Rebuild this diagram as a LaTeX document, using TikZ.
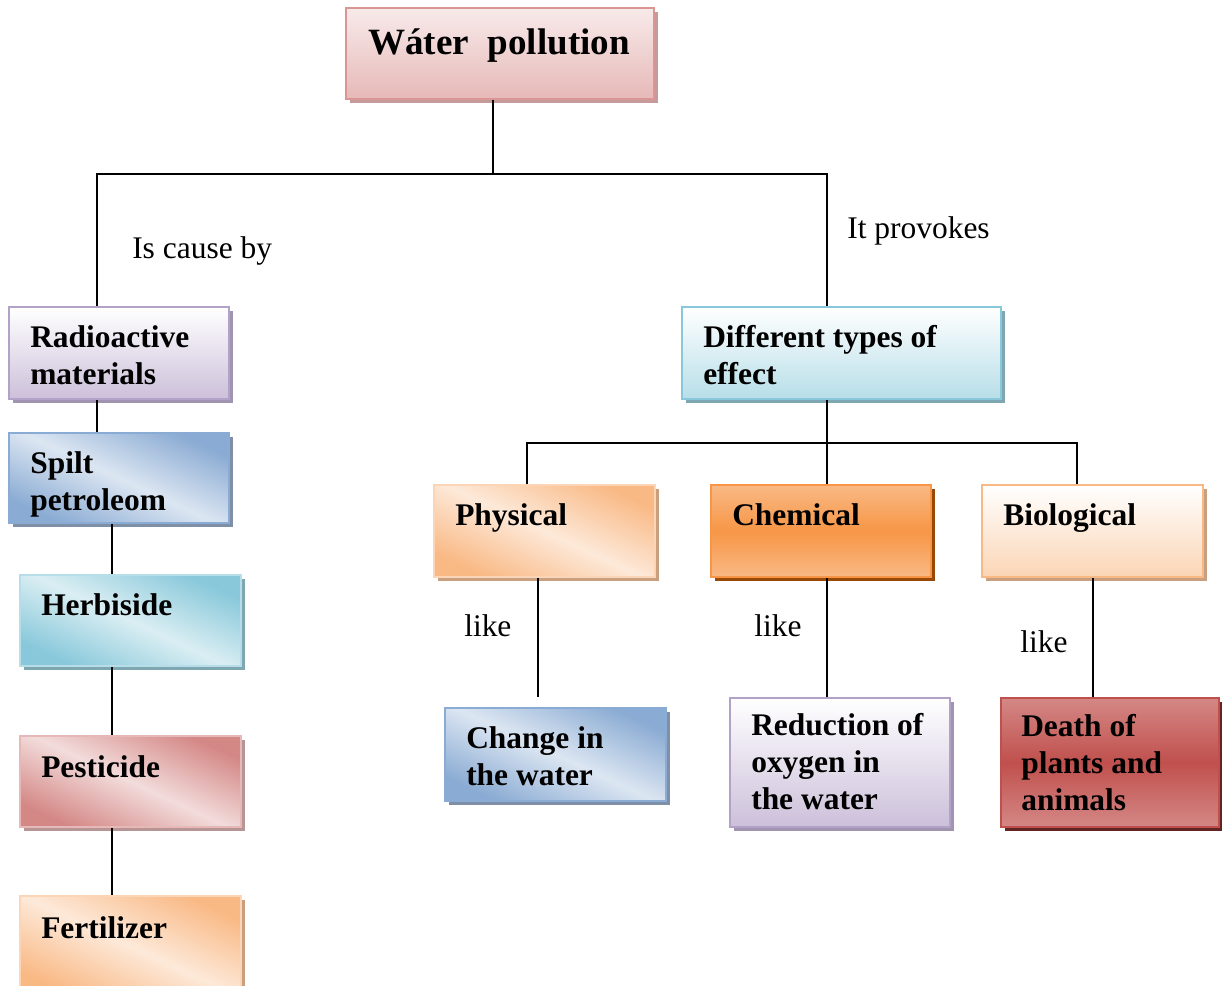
\documentclass[tikz,border=0pt]{standalone}
\usepackage{fontspec}
\setmainfont{Liberation Serif}
\usetikzlibrary{shadows}
\definecolor{pinkA}{HTML}{F8EAEA}\definecolor{pinkB}{HTML}{E6B9B8}\definecolor{pinkE}{HTML}{D99694}
\definecolor{purB}{HTML}{CCC0DA}\definecolor{purE}{HTML}{B3A2C7}
\definecolor{bluD}{HTML}{8AABD3}\definecolor{bluL}{HTML}{DCE6F2}
\definecolor{cyaD}{HTML}{88C8DA}\definecolor{cyaL}{HTML}{DAEEF3}\definecolor{cyaB}{HTML}{B7DEE8}
\definecolor{redD}{HTML}{D48886}\definecolor{redL}{HTML}{F2DCDB}
\definecolor{orgD}{HTML}{F9B985}\definecolor{orgL}{HTML}{FDE9D9}\definecolor{orgB}{HTML}{FBD5B5}
\definecolor{orgS}{HTML}{F79646}\definecolor{orgX}{HTML}{984807}
\definecolor{deaM}{HTML}{C0504D}\definecolor{deaX}{HTML}{632523}
\definecolor{shPink}{HTML}{C49A9A}\definecolor{shPur}{HTML}{A094B0}\definecolor{shBlu}{HTML}{7F8FA6}
\definecolor{shCya}{HTML}{7FA7B2}\definecolor{shRed}{HTML}{B89595}\definecolor{shOrg}{HTML}{C9A07F}
\tikzset{
  x=0.75pt, y=-0.75pt,
  bx/.style={draw=#1, line width=1.5pt, inner sep=0pt},
  sh/.style={drop shadow={shadow xshift=3pt, shadow yshift=-3pt, opacity=1, fill=#1}},
  vgrad/.style 2 args={top color=#1, bottom color=#2},
  vgrad3/.style 2 args={top color=#1, bottom color=#1, middle color=#2},
  dgrad/.style 2 args={top color=#1, bottom color=#1, middle color=#2, shading angle=-25},
  bt/.style={font=\fontsize{23.6}{27.75}\selectfont\bfseries, align=left, inner sep=0pt, anchor=base west},
  lt/.style={font=\fontsize{23.6}{27.75}\selectfont, inner sep=0pt, anchor=base west},
  conn/.style={line width=1.2pt, black},
}
\newcommand{\mybox}[6]{\node[#2, anchor=north west, minimum width={(#5-#3)*0.75pt}, minimum height={(#6-#4)*0.75pt}] (#1) at (#3,#4) {};}
\begin{document}
\begin{tikzpicture}
\clip (0,0) rectangle (1222,986);
% boxes
\mybox{title}{bx=pinkE, vgrad={pinkA}{pinkB}, sh=shPink}{345}{7}{653}{98}
\mybox{rad}{bx=purE, vgrad={white}{purB}, sh=shPur}{8}{306}{228}{398}
\mybox{spilt}{bx=bluD, dgrad={bluD}{bluL}, sh=shBlu}{8}{432}{228}{522}
\mybox{herb}{bx=cyaB, dgrad={cyaD}{cyaL}, sh=shCya}{19}{574}{240}{665}
\mybox{pest}{bx=pinkB, dgrad={redD}{redL}, sh=shRed}{19}{735}{240}{826}
\mybox{fert}{bx=orgB, dgrad={orgD}{orgL}, sh=shOrg}{19}{895}{240}{995}
\mybox{diff}{bx=cyaD, vgrad={white}{cyaB}, sh=shCya}{681}{306}{1000}{398}
\mybox{phys}{bx=orgB, dgrad={orgD}{orgL}, sh=shOrg}{433}{484}{654}{576}
\mybox{chem}{bx=orgS, vgrad3={orgD}{orgS}, sh=orgX}{710}{484}{930}{576}
\mybox{bio}{bx=orgD, vgrad={white}{orgB}, sh=shOrg}{981}{484}{1202}{576}
\mybox{chg}{bx=bluD, dgrad={bluD}{bluL}, sh=shBlu}{444}{707}{665}{800}
\mybox{red}{bx=purE, vgrad={white}{purB}, sh=shPur}{729}{697}{949}{826}
\mybox{death}{bx=deaM, vgrad3={redD}{deaM}, sh=deaX}{1000}{697}{1218}{826}
% texts (anchor = baseline of last line)
\node[bt, font=\fontsize{27.8}{33}\selectfont\bfseries] (titleT) at (368,54) {Wáter\ \ pollution};
\node[bt] (radT) at (30,384) {Radioactive\\materials};
\begin{scope}
\clip (8,432) rectangle (228,516);
\node[bt] (spiltT) at (30,510) {Spilt\\petroleom};
\end{scope}
\node[bt] (herbT) at (41,615) {Herbiside};
\node[bt] (pestT) at (41,777) {Pesticide};
\node[bt] (fertT) at (41,938) {Fertilizer};
\node[bt] (diffT) at (703,384) {Different types of\\effect};
\node[bt] (physT) at (455,525) {Physical};
\node[bt] (chemT) at (732,525) {Chemical};
\node[bt] (bioT) at (1003,525) {Biological};
\node[bt] (chgT) at (466,785) {Change in\\the water};
\node[bt] (redT) at (751,809) {Reduction of\\oxygen in\\the water};
\node[bt] (deathT) at (1021,810) {Death of\\plants and\\animals};
\node[lt] (l1) at (132,258) {Is cause by};
\node[lt] (l2) at (847,238) {It provokes};
\node[lt] (l3) at (464,636) {like};
\node[lt] (l4) at (754,636) {like};
\node[lt] (l5) at (1020,652) {like};
% connectors
\coordinate (j1) at (493,174);
\coordinate (jL) at (97,174);
\coordinate (jR) at (827,174);
\draw[conn] (j1 |- title.south) -- (j1);
\draw[conn] (jL |- rad.north) -- (jL) -- (jR) -- (jR |- diff.north);
\draw[conn] (jL |- rad.south) -- (jL |- spilt.north);
\coordinate (xL) at (112,0);
\draw[conn] (xL |- spilt.south) -- (xL |- herb.north);
\draw[conn] (xL |- herb.south) -- (xL |- pest.north);
\draw[conn] (xL |- pest.south) -- (xL |- fert.north);
\coordinate (j2) at (827,443);
\coordinate (k1) at (527,443);
\coordinate (k3) at (1077,443);
\draw[conn] (j2 |- diff.south) -- (j2);
\draw[conn] (k1 |- phys.north) -- (k1) -- (k3) -- (k3 |- bio.north);
\draw[conn] (j2) -- (j2 |- chem.north);
\coordinate (c1) at (538,697);
\draw[conn] (c1 |- phys.south) -- (c1);
\coordinate (c2) at (827,0);
\draw[conn] (c2 |- chem.south) -- (c2 |- red.north);
\coordinate (c3) at (1093,0);
\draw[conn] (c3 |- bio.south) -- (c3 |- death.north);
\end{tikzpicture}
\end{document}
